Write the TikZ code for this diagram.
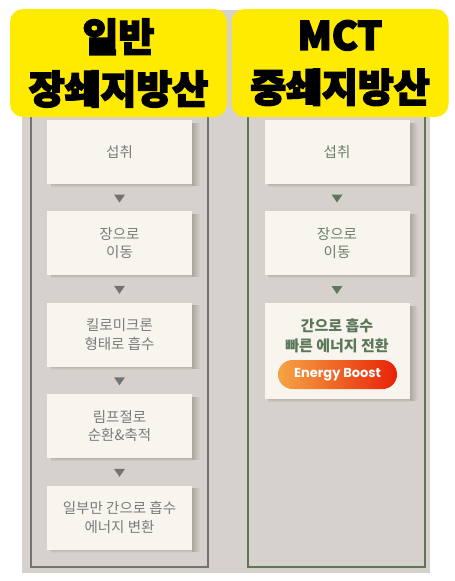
\documentclass[tikz,border=0pt]{standalone}
\usepackage{fontspec}
\newfontfamily\kr{Noto Sans CJK KR}
\newfontfamily\krh{Noto Sans CJK KR}[BoldFeatures={FakeBold=4}]
\newfontfamily\pop{Poppins}
\usetikzlibrary{fadings,calc}
\definecolor{bgc}{HTML}{D6D1CC}
\definecolor{boxc}{HTML}{F8F5EF}
\definecolor{leftc}{HTML}{727272}
\definecolor{rightc}{HTML}{5E775C}
\definecolor{ltext}{HTML}{7B7B7B}
\definecolor{rtext}{HTML}{6A7F68}
\definecolor{rbold}{HTML}{5B7758}
\definecolor{yel}{HTML}{FFEB00}
\definecolor{orangeA}{HTML}{F6A443}
\definecolor{redA}{HTML}{E82208}
\definecolor{shad}{HTML}{8C8580}
\begin{document}
\begin{tikzpicture}[x=1pt,y=-1pt,
  bx/.style={fill=boxc, minimum width=145pt, inner sep=0pt, align=center},
  lbox/.style={bx, minimum height=64pt, text=ltext, font=\kr\fontsize{14.5}{18.5}\selectfont},
  rbox/.style={bx, minimum height=64pt, text=rtext, font=\kr\fontsize{14.5}{18.5}\selectfont},
  hdr/.style={fill=yel, rounded corners=13pt, minimum width=217pt, minimum height=108pt, inner sep=0pt,
    align=center, font=\krh\bfseries\fontsize{39}{52}\selectfont},
  shadowR/.style={fill=shad, opacity=0.55, path fading=east},
  shadowB/.style={fill=shad, opacity=0.35, path fading=south},
  arrL/.style={fill=leftc},
  arrR/.style={fill=rightc}
]
\useasboundingbox (0,0) rectangle (455,581);
\fill[white] (0,0) rectangle (455,581);
\fill[bgc] (22,10) rectangle (430,573);
\draw[leftc, line width=1.3pt] (31,100) rectangle (208,567);
\draw[rightc, line width=1.3pt] (248,100) rectangle (425,567);

% left column
\node[lbox] (l1) at (119.5,152) {섭취};
\node[lbox] (l2) at (119.5,243) {장으로\\이동};
\node[lbox] (l3) at (119.5,334.5) {킬로미크론\\형태로 흡수};
\node[lbox] (l4) at (119.5,426) {림프절로\\순환\&축적};
\node[lbox] (l5) at (119.5,517.5) {일부만 간으로 흡수\\에너지 변환};

% right column
\node[rbox] (r1) at (337,152) {섭취};
\node[rbox] (r2) at (337,243) {장으로\\이동};
\node[bx, minimum height=96pt] (r3) at (337,351) {};
\node[text=rbold, font=\kr\bfseries\fontsize{15}{20}\selectfont, align=center] (r3t) at (337,336) {간으로 흡수\\빠른 에너지 전환};
\node[rounded corners=14.5pt, left color=orangeA, right color=redA, minimum width=119pt, minimum height=29pt,
  inner sep=0pt, text=white, font=\pop\bfseries\fontsize{13}{15}\selectfont] (boost) at (337.5,374.5) {Energy Boost};

% soft shadows on the right and bottom of each box
\foreach \n in {l1,l2,l3,l4,l5,r1,r2,r3}{
  \fill[shadowR] ([yshift=-3pt]\n.north east) rectangle ([xshift=8pt,yshift=-2pt]\n.south east);
  \fill[shadowB] ([xshift=4pt]\n.south west) rectangle ([yshift=-3pt]\n.south east);
}

% arrows
\foreach \a/\b in {l1/l2,l2/l3,l3/l4,l4/l5}{
  \fill[arrL] ($(\a.south)!.5!(\b.north)$) ++(-5.5,-3) -- ++(11,0) -- ++(-5.5,8) -- cycle;
}
\foreach \a/\b in {r1/r2,r2/r3}{
  \fill[arrR] ($(\a.south)!.5!(\b.north)$) ++(-5.5,-3) -- ++(11,0) -- ++(-5.5,8) -- cycle;
}

% headers
\node[hdr] (h1) at (118.5,63) {일반\\장쇄지방산};
\node[hdr] (h2) at (340,63) {MCT\\중쇄지방산};
\end{tikzpicture}
\end{document}
